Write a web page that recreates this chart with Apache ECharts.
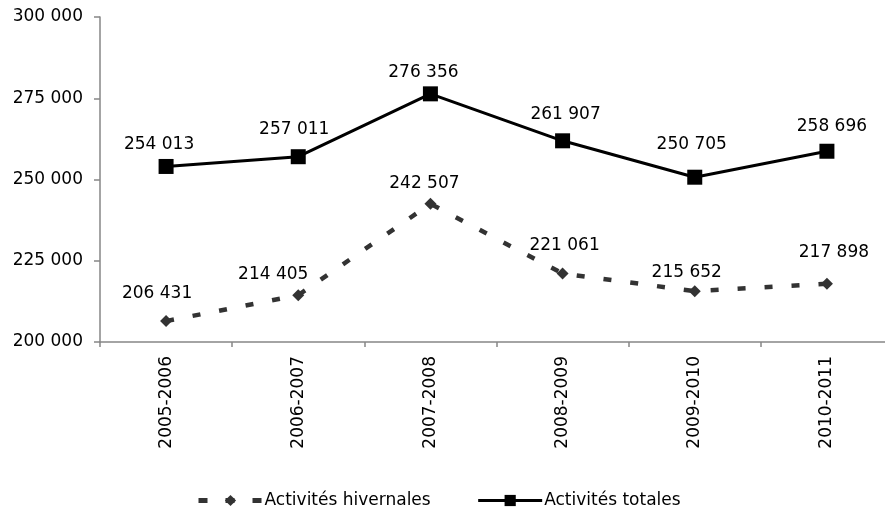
<!DOCTYPE html>
<html>
<head>
<meta charset="utf-8">
<script src="https://cdn.jsdelivr.net/npm/echarts@6/dist/echarts.min.js"></script>
<style>
html,body{margin:0;padding:0;background:#fff;overflow:hidden;width:885px;height:512px;}
#c{width:895px;height:512px;}
</style>
</head>
<body>
<div id="c"></div>
<script>
const categories = ['2005-2006','2006-2007','2007-2008','2008-2009','2009-2010','2010-2011'];
const hivernales = [206431, 214405, 242507, 221061, 215652, 217898];
const totales = [254013, 257011, 276356, 261907, 250705, 258696];
const yTicks = { min: 200000, max: 300000, interval: 25000 };

// label placement (styling only)
const hivLabelOffsets = [[-9,-28],[-25,-21],[-6,-20],[2,-28],[-8,-19],[7,-31]];
const totLabelOffsets = [[-7,-22],[-4,-27],[-7,-21],[3,-26],[-3,-33],[5,-25]];

const FONT = 'DejaVu Sans';
const fmt = v => String(v).replace(/\B(?=(\d{3})+(?!\d))/g, ' ');

function withLabels(values, offsets) {
  return values.map((v, i) => ({ value: v, label: { offset: offsets[i] } }));
}

const chart = echarts.init(document.getElementById('c'), null, { renderer: 'canvas' });
chart.setOption({
  animation: false,
  backgroundColor: '#fff',
  textStyle: { fontFamily: FONT },
  grid: { left: 100, top: 17, right: 2, bottom: 170, containLabel: false },
  legend: {
    left: 191, top: 487,
    itemWidth: 64, itemHeight: 14, itemGap: 46,
    textStyle: { fontFamily: FONT, fontSize: 17, color: '#000', padding: [0, 0, 0, -3] },
    data: [
      { name: 'Activités hivernales', lineStyle: { width: 5, type: [9, 18] } },
      { name: 'Activités totales', lineStyle: { width: 3 } }
    ]
  },
  xAxis: {
    type: 'category',
    data: categories,
    boundaryGap: true,
    axisLine: { lineStyle: { color: '#868686', width: 1.5 } },
    axisTick: { show: true, length: 5, lineStyle: { color: '#868686', width: 1.5 } },
    axisLabel: { rotate: 90, margin: 14, fontFamily: FONT, fontSize: 17, color: '#000' },
    splitLine: { show: false }
  },
  yAxis: {
    type: 'value',
    min: yTicks.min, max: yTicks.max, interval: yTicks.interval,
    axisLine: { show: true, lineStyle: { color: '#868686', width: 1.5 } },
    axisTick: { show: true, length: 6, lineStyle: { color: '#868686', width: 1.5 } },
    axisLabel: { margin: 17, fontFamily: FONT, fontSize: 17, color: '#000', formatter: fmt },
    splitLine: { show: false }
  },
  series: [
    {
      name: 'Activités hivernales',
      type: 'line',
      data: withLabels(hivernales, hivLabelOffsets),
      symbol: 'diamond', symbolSize: 12,
      itemStyle: { color: '#333333' },
      lineStyle: { color: '#333333', width: 4.5, type: [8, 19] },
      label: { show: true, position: 'inside', fontFamily: FONT, fontSize: 17, color: '#000', formatter: p => fmt(p.value) }
    },
    {
      name: 'Activités totales',
      type: 'line',
      data: withLabels(totales, totLabelOffsets),
      symbol: 'rect', symbolSize: 15,
      itemStyle: { color: '#000' },
      lineStyle: { color: '#000', width: 3 },
      label: { show: true, position: 'inside', fontFamily: FONT, fontSize: 17, color: '#000', formatter: p => fmt(p.value) }
    }
  ]
});
</script>
</body>
</html>
